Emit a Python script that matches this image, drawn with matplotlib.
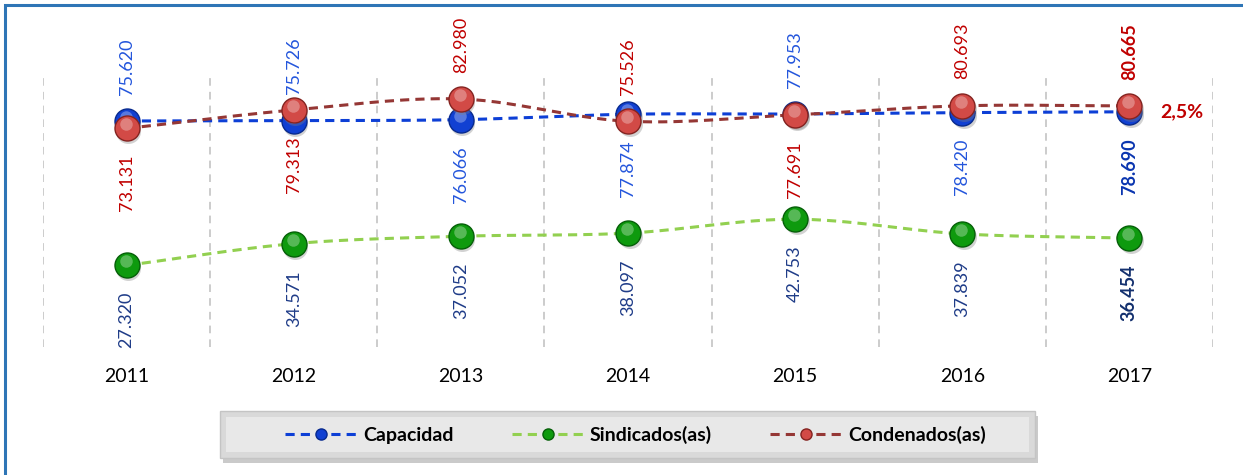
import numpy as np
import matplotlib
matplotlib.use("Agg")
import matplotlib.pyplot as plt
import matplotlib.transforms as mtransforms
from matplotlib.patches import Rectangle
from matplotlib.lines import Line2D

plt.rcParams['font.family'] = ['Lato', 'DejaVu Sans']

years = ['2011', '2012', '2013', '2014', '2015', '2016', '2017']
capacidad = [75620, 75726, 76066, 77874, 77953, 78420, 78690]
sindicados = [27320, 34571, 37052, 38097, 42753, 37839, 36454]
condenados = [73131, 79313, 82980, 75526, 77691, 80693, 80665]
variacion = '2,5%'

# label placement (+1 above the point, -1 below)
cap_side = [1, 1, -1, -1, 1, -1, -1]
sin_side = [-1] * 7
con_side = [-1, -1, 1, 1, -1, 1, 1]


def fmt(v):
    return f"{v:,}".replace(",", ".")


def smooth(x, y, n=30):
    # catmull-rom curve through the points, like excel's smoothed line
    x = np.asarray(x, float)
    y = np.asarray(y, float)
    px = np.concatenate([[2 * x[0] - x[1]], x, [2 * x[-1] - x[-2]]])
    py = np.concatenate([[2 * y[0] - y[1]], y, [2 * y[-1] - y[-2]]])
    xs, ys = [], []
    t = np.linspace(0, 1, n)
    for i in range(1, len(px) - 2):
        for p, out in ((px, xs), (py, ys)):
            p0, p1, p2, p3 = p[i - 1], p[i], p[i + 1], p[i + 2]
            seg = 0.5 * ((2 * p1) + (-p0 + p2) * t
                         + (2 * p0 - 5 * p1 + 4 * p2 - p3) * t ** 2
                         + (-p0 + 3 * p1 - 3 * p2 + p3) * t ** 3)
            out.extend(seg)
    return xs, ys


fig = plt.figure(figsize=(12.43, 4.75), dpi=100)
ax = fig.add_axes([43 / 1243, 1 - 347 / 475, 1170 / 1243, 269 / 475])

# outer blue frame (cut off at right/bottom in the original)
fig.patches.append(Rectangle((5 / 1243, -0.05), 1.1, 1 - 5 / 475 + 0.05,
                             transform=fig.transFigure, fill=False,
                             edgecolor='#2E75B6', linewidth=2.2, zorder=0))

x = np.arange(len(years))
for b in np.arange(-0.5, 7, 1):
    ax.axvline(b, color='#BFBFBF', linestyle=(0, (5, 4)), linewidth=1.1, zorder=0)

shadow = mtransforms.offset_copy(ax.transData, fig=fig, x=1.5, y=-3, units='dots')
shine = mtransforms.offset_copy(ax.transData, fig=fig, x=-1, y=4, units='dots')

series = [
    (sindicados, '#92D050', '#0E9A0E', '#055F08', '#1F3C88', sin_side, 'Sindicados(as)', 2),
    (capacidad, '#0D3FD6', '#1140D2', '#082A8E', '#2456DC', cap_side, 'Capacidad', 3),
    (condenados, '#953735', '#D24A46', '#842320', '#C00000', con_side, 'Condenados(as)', 4),
]

handles = {}
for vals, lc, mc, me, tc, sides, name, z in series:
    sx, sy = smooth(x, vals)
    ax.plot(sx, sy, color=lc, linestyle=(0, (3, 2)), linewidth=2.2, zorder=z)
    ax.plot(x, vals, linestyle='none', marker='o', markersize=18, transform=shadow,
            markerfacecolor='#808080', markeredgecolor='none', alpha=0.35, zorder=z + 0.05)
    ax.plot(x, vals, linestyle='none', marker='o', markersize=18,
            markerfacecolor=mc, markeredgecolor=me, markeredgewidth=1.0, zorder=z + 0.1)
    ax.plot(x, vals, linestyle='none', marker='o', markersize=9, transform=shine,
            markerfacecolor='white', markeredgecolor='none', alpha=0.3, zorder=z + 0.2)
    for i, (v, s) in enumerate(zip(vals, sides)):
        last = i == len(vals) - 1
        col = tc
        if last and name == 'Capacidad':
            col = '#0A35B0'
        if last and name == 'Sindicados(as)':
            col = '#13306E'
        ax.annotate(fmt(v), (x[i], v), xytext=(0, 19 * s), textcoords='offset points',
                    rotation=90, ha='center', va='bottom' if s > 0 else 'top',
                    fontsize=13, color=col, fontweight='bold' if last else 'normal',
                    zorder=6)
    handles[name] = Line2D([], [], color=lc, linestyle=(0, (3, 2)), linewidth=2.2,
                           marker='o', markersize=8, markerfacecolor=mc,
                           markeredgecolor=me)

ax.annotate(variacion, (x[-1], condenados[-1]), xytext=(22, -4), textcoords='offset points',
            ha='left', va='center', fontsize=14, fontweight='bold', color='#C00000')

ax.set_xlim(-0.5, 6.5)
ax.set_ylim(0, 90000)
ax.set_xticks(x)
ax.set_xticklabels(years, fontsize=14)
ax.tick_params(axis='x', length=0, pad=15)
ax.set_yticks([])
for sp in ax.spines.values():
    sp.set_visible(False)

# legend box with shadow and bevel
lx0, ly0, lw, lh = 220 / 1243, 1 - 458 / 475, 815 / 1243, 47 / 475
fig.patches.append(Rectangle((lx0 + 3 / 1243, ly0 - 5 / 475), lw, lh, transform=fig.transFigure,
                             facecolor='#A0A0A0', edgecolor='none', alpha=0.55, zorder=1))
fig.patches.append(Rectangle((lx0, ly0), lw, lh, transform=fig.transFigure,
                             facecolor='#D9D9D9', edgecolor='#C4C4C4', linewidth=1.0, zorder=2))
fig.patches.append(Rectangle((lx0 + 6 / 1243, ly0 + 6 / 475), lw - 12 / 1243, lh - 12 / 475,
                             transform=fig.transFigure, facecolor='#E8E8E8',
                             edgecolor='none', zorder=2))
leg = fig.legend([handles['Capacidad'], handles['Sindicados(as)'], handles['Condenados(as)']],
                 ['Capacidad', 'Sindicados(as)', 'Condenados(as)'],
                 loc='center', bbox_to_anchor=(lx0 + lw / 2 + 8 / 1243, ly0 + lh / 2), ncol=3,
                 frameon=False, handlelength=3.7, columnspacing=3.0, handletextpad=0.3,
                 prop={'weight': 'bold', 'size': 14})
leg.set_zorder(5)

fig.savefig('out.png', dpi=100)
